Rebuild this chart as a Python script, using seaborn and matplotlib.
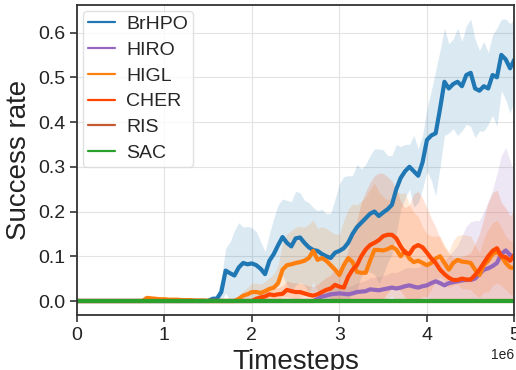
import numpy as np
import pandas as pd
import matplotlib
matplotlib.use("Agg")
import matplotlib.pyplot as plt
from matplotlib.lines import Line2D
import seaborn as sns


# timesteps, one sample every 5e4 steps
steps = np.linspace(0, 5e6, 101)

methods = ["BrHPO", "HIRO", "HIGL", "CHER", "RIS", "SAC"]
colors = ["#1f77b4", "#9467bd", "#ff7f0e", "#ff4500", "#c85a32", "#2ca02c"]

# mean success rate, rows of 10 samples (0.5e6 each)
brhpo_mean = [
    0, 0, 0, 0, 0, 0, 0, 0, 0, 0,
    0, 0, 0, 0, 0, 0, 0, 0, 0, 0,
    0, 0, 0, 0, 0, 0, 0, 0, 0, 0,
    0.0, 0.005, 0.005, 0.02, 0.068, 0.062, 0.057, 0.075, 0.085, 0.082,
    0.084, 0.08, 0.072, 0.06, 0.09, 0.105, 0.125, 0.143, 0.13, 0.122,
    0.14, 0.142, 0.13, 0.12, 0.114, 0.112, 0.105, 0.1, 0.096, 0.108,
    0.112, 0.118, 0.13, 0.15, 0.165, 0.175, 0.185, 0.195, 0.2, 0.19,
    0.198, 0.205, 0.215, 0.25, 0.275, 0.29, 0.3, 0.29, 0.28, 0.31,
    0.36, 0.37, 0.375, 0.43, 0.49, 0.475, 0.485, 0.49, 0.48, 0.505,
    0.51, 0.475, 0.47, 0.48, 0.475, 0.505, 0.5, 0.55, 0.54, 0.52,
    0.54,
]
brhpo_sd = [
    0, 0, 0, 0, 0, 0, 0, 0, 0, 0,
    0, 0, 0, 0, 0, 0, 0, 0, 0, 0,
    0, 0, 0, 0, 0, 0, 0, 0, 0, 0,
    0.003, 0.006, 0.01, 0.03, 0.05, 0.07, 0.1, 0.1, 0.08, 0.085,
    0.08, 0.075, 0.06, 0.05, 0.06, 0.08, 0.09, 0.085, 0.095, 0.1,
    0.105, 0.1, 0.095, 0.1, 0.095, 0.09, 0.1, 0.095, 0.1, 0.12,
    0.15, 0.16, 0.15, 0.13, 0.14, 0.12, 0.12, 0.13, 0.14, 0.15,
    0.14, 0.12, 0.11, 0.1, 0.07, 0.06, 0.05, 0.08, 0.06, 0.06,
    0.07, 0.1, 0.14, 0.13, 0.12, 0.1, 0.1, 0.12, 0.1, 0.11,
    0.12, 0.11, 0.09, 0.1, 0.08, 0.09, 0.11, 0.08, 0.09, 0.1,
    0.09,
]

hiro_mean = [
    0, 0, 0, 0, 0, 0, 0, 0, 0, 0,
    0, 0, 0, 0, 0, 0, 0, 0, 0, 0,
    0, 0, 0, 0, 0, 0, 0, 0, 0, 0,
    0, 0, 0, 0, 0, 0, 0, 0, 0, 0,
    0, 0, 0, 0, 0, 0, 0, 0, 0, 0,
    0, 0, 0, 0, 0, 0.005, 0.01, 0.012, 0.015, 0.016,
    0.017, 0.016, 0.015, 0.017, 0.02, 0.021, 0.022, 0.026, 0.025, 0.024,
    0.026, 0.028, 0.03, 0.028, 0.03, 0.033, 0.035, 0.032, 0.03, 0.033,
    0.035, 0.04, 0.044, 0.04, 0.035, 0.04, 0.042, 0.044, 0.046, 0.047,
    0.047, 0.05, 0.06, 0.07, 0.073, 0.078, 0.085, 0.105, 0.113, 0.103,
    0.098,
]
hiro_sd = [
    0, 0, 0, 0, 0, 0, 0, 0, 0, 0,
    0, 0, 0, 0, 0, 0, 0, 0, 0, 0,
    0, 0, 0, 0, 0, 0, 0, 0, 0, 0,
    0, 0, 0, 0, 0, 0, 0, 0, 0, 0,
    0, 0, 0, 0, 0, 0, 0, 0, 0, 0,
    0, 0, 0, 0, 0, 0.004, 0.008, 0.01, 0.012, 0.014,
    0.015, 0.016, 0.017, 0.018, 0.02, 0.022, 0.024, 0.026, 0.028, 0.03,
    0.03, 0.032, 0.034, 0.036, 0.038, 0.04, 0.04, 0.042, 0.045, 0.05,
    0.05, 0.05, 0.05, 0.05, 0.055, 0.06, 0.07, 0.08, 0.1, 0.12,
    0.13, 0.13, 0.12, 0.13, 0.15, 0.17, 0.2, 0.22, 0.23, 0.21,
    0.19,
]

higl_mean = [
    0, 0, 0, 0, 0, 0, 0, 0, 0, 0,
    0, 0, 0, 0, 0, 0, 0.007, 0.006, 0.005, 0.004,
    0.004, 0.003, 0.003, 0.003, 0.002, 0.002, 0.002, 0.001, 0.001, 0.001,
    0, 0, 0, 0, 0, 0, 0, 0.005, 0.012, 0.015,
    0.02, 0.02, 0.018, 0.022, 0.027, 0.03, 0.04, 0.07, 0.08, 0.082,
    0.085, 0.087, 0.09, 0.096, 0.112, 0.092, 0.096, 0.09, 0.08, 0.07,
    0.058, 0.08, 0.096, 0.087, 0.065, 0.063, 0.063, 0.09, 0.114, 0.114,
    0.113, 0.116, 0.121, 0.115, 0.1, 0.112, 0.095, 0.087, 0.09, 0.085,
    0.08, 0.085, 0.095, 0.1, 0.085, 0.07, 0.085, 0.092, 0.088, 0.087,
    0.085, 0.07, 0.058, 0.08, 0.09, 0.105, 0.11, 0.1, 0.085, 0.075,
    0.074,
]
higl_sd = [
    0, 0, 0, 0, 0, 0, 0, 0, 0, 0,
    0, 0, 0, 0, 0, 0, 0.003, 0.003, 0.003, 0.002,
    0.002, 0.002, 0.002, 0.002, 0.002, 0.002, 0.002, 0.001, 0.001, 0.001,
    0, 0, 0, 0, 0, 0, 0, 0.005, 0.01, 0.015,
    0.02, 0.02, 0.02, 0.022, 0.025, 0.03, 0.04, 0.06, 0.07, 0.075,
    0.08, 0.08, 0.075, 0.075, 0.07, 0.07, 0.07, 0.072, 0.075, 0.08,
    0.09, 0.1, 0.11, 0.13, 0.15, 0.16, 0.17, 0.16, 0.15, 0.13,
    0.12, 0.11, 0.11, 0.13, 0.14, 0.13, 0.12, 0.11, 0.1, 0.08,
    0.07, 0.06, 0.05, 0.045, 0.04, 0.04, 0.05, 0.055, 0.06, 0.06,
    0.06, 0.055, 0.05, 0.06, 0.07, 0.07, 0.07, 0.065, 0.06, 0.06,
    0.06,
]

cher_mean = [
    0, 0, 0, 0, 0, 0, 0, 0, 0, 0,
    0, 0, 0, 0, 0, 0, 0, 0, 0, 0,
    0, 0, 0, 0, 0, 0, 0, 0, 0, 0,
    0, 0, 0, 0, 0, 0, 0, 0, 0, 0,
    0.0, 0.005, 0.008, 0.01, 0.015, 0.013, 0.015, 0.016, 0.025, 0.022,
    0.02, 0.02, 0.017, 0.014, 0.012, 0.015, 0.02, 0.025, 0.028, 0.036,
    0.032, 0.03, 0.054, 0.07, 0.08, 0.1, 0.115, 0.125, 0.13, 0.136,
    0.145, 0.148, 0.148, 0.14, 0.122, 0.108, 0.105, 0.12, 0.125, 0.12,
    0.108, 0.095, 0.085, 0.07, 0.06, 0.052, 0.047, 0.047, 0.05, 0.048,
    0.048, 0.058, 0.07, 0.085, 0.1, 0.112, 0.118, 0.1, 0.098, 0.09,
    0.103,
]
cher_sd = [
    0, 0, 0, 0, 0, 0, 0, 0, 0, 0,
    0, 0, 0, 0, 0, 0, 0, 0, 0, 0,
    0, 0, 0, 0, 0, 0, 0, 0, 0, 0,
    0, 0, 0, 0, 0, 0, 0, 0, 0, 0,
    0.003, 0.005, 0.008, 0.01, 0.012, 0.015, 0.015, 0.018, 0.02, 0.02,
    0.02, 0.02, 0.02, 0.02, 0.02, 0.022, 0.025, 0.028, 0.03, 0.035,
    0.04, 0.05, 0.06, 0.08, 0.1, 0.12, 0.13, 0.14, 0.15, 0.15,
    0.14, 0.13, 0.12, 0.11, 0.1, 0.1, 0.11, 0.12, 0.12, 0.11,
    0.1, 0.09, 0.08, 0.07, 0.06, 0.055, 0.05, 0.05, 0.05, 0.055,
    0.06, 0.07, 0.08, 0.1, 0.12, 0.13, 0.13, 0.12, 0.11, 0.1,
    0.1,
]

# RIS and SAC never leave zero
ris_mean = [
    0, 0, 0, 0, 0, 0, 0, 0, 0, 0,
    0, 0, 0, 0, 0, 0, 0, 0, 0, 0,
    0, 0, 0, 0, 0, 0, 0, 0, 0, 0,
    0, 0, 0, 0, 0, 0, 0, 0, 0, 0,
    0, 0, 0, 0, 0, 0, 0, 0, 0, 0,
    0, 0, 0, 0, 0, 0, 0, 0, 0, 0,
    0, 0, 0, 0, 0, 0, 0, 0, 0, 0,
    0, 0, 0, 0, 0, 0, 0, 0, 0, 0,
    0, 0, 0, 0, 0, 0, 0, 0, 0, 0,
    0, 0, 0, 0, 0, 0, 0, 0, 0, 0,
    0,
]
sac_mean = list(ris_mean)


means = {"BrHPO": brhpo_mean, "HIRO": hiro_mean, "HIGL": higl_mean,
         "CHER": cher_mean, "RIS": ris_mean, "SAC": sac_mean}
sds = {"BrHPO": brhpo_sd, "HIRO": hiro_sd, "HIGL": higl_sd,
       "CHER": cher_sd, "RIS": ris_mean, "SAC": sac_mean}

rows = []
for m in methods:
    for t, v in zip(steps, means[m]):
        rows.append({"Timesteps": t, "Success rate": v, "method": m})
df = pd.DataFrame(rows)


sns.set_style("ticks", {"axes.grid": True, "grid.color": ".89",
                        "axes.edgecolor": "#333333"})
plt.rcParams["font.family"] = ["Liberation Sans", "DejaVu Sans"]

fig = plt.figure(figsize=(5.16, 3.70), dpi=100)
ax = fig.add_axes([0.149, 0.149, 0.848, 0.838])

for m, c in zip(methods, colors):
    mu = np.array(means[m])
    sd = np.array(sds[m])
    ax.fill_between(steps, np.clip(mu - sd, 0, None), mu + sd,
                    color=c, alpha=0.16, lw=0)

sns.lineplot(data=df, x="Timesteps", y="Success rate", hue="method",
             hue_order=methods, palette=colors, lw=3, legend=False, ax=ax)

ax.set_xlim(0, 5e6)
ax.set_ylim(-0.031, 0.662)
ax.set_yticks([0.0, 0.1, 0.2, 0.3, 0.4, 0.5, 0.6])
ax.tick_params(labelsize=14, length=5, width=1.2, color="#333333",
               labelcolor="#222222")
ax.xaxis.get_offset_text().set_fontsize(10)
ax.set_xlabel("Timesteps", fontsize=20, color="#222222")
ax.set_ylabel("Success rate", fontsize=20, color="#222222")
for s in ax.spines.values():
    s.set_linewidth(1.3)

handles = [Line2D([0], [0], color=c, lw=1.6) for c in colors]
ax.legend(handles, methods, loc="upper left", fontsize=14,
          handlelength=1.4, handletextpad=0.6, labelspacing=0.42,
          borderpad=0.25, borderaxespad=0.3, frameon=True, edgecolor=".85")

fig.savefig("out.png", dpi=100)
